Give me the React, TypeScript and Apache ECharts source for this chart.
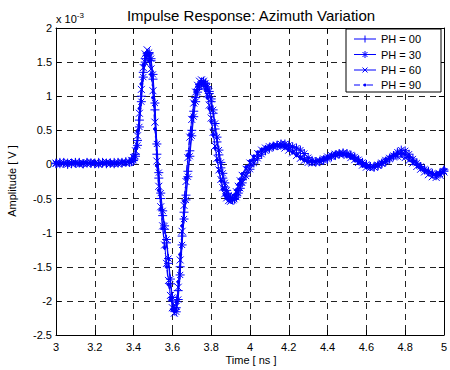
import React, { useEffect, useRef } from "react";
import * as echarts from "echarts";

const FONT = "'Liberation Sans', Arial, sans-serif";

// Time axis samples [ns]
const times = [
  3.00, 3.02, 3.04, 3.06, 3.08, 3.10, 3.12, 3.14, 3.16, 3.18, 3.20, 3.22, 3.24, 3.26, 3.28, 3.30, 3.32, 3.34, 3.36,
  3.38, 3.39, 3.40, 3.41, 3.42, 3.43, 3.44, 3.45, 3.46, 3.47, 3.48, 3.49, 3.50, 3.51, 3.52, 3.53, 3.54, 3.55, 3.56, 3.57,
  3.58, 3.59, 3.60, 3.61, 3.62, 3.63, 3.64, 3.65, 3.66, 3.67, 3.68, 3.69, 3.70, 3.71, 3.72, 3.73, 3.74, 3.75, 3.76, 3.77,
  3.78, 3.79, 3.80, 3.81, 3.82, 3.83, 3.84, 3.85, 3.86, 3.87, 3.88, 3.89, 3.90, 3.91, 3.92, 3.93, 3.94, 3.95, 3.96,
  3.98, 4.00, 4.02, 4.04, 4.06, 4.08, 4.10, 4.12, 4.14, 4.16, 4.18, 4.20, 4.22, 4.24, 4.26, 4.28, 4.30, 4.32, 4.34, 4.36,
  4.38, 4.40, 4.42, 4.44, 4.46, 4.48, 4.50, 4.52, 4.54, 4.56, 4.58, 4.60, 4.62, 4.64, 4.66, 4.68, 4.70, 4.72, 4.74, 4.76,
  4.78, 4.80, 4.82, 4.84, 4.86, 4.88, 4.90, 4.92, 4.94, 4.96, 4.98, 5.00,
];

// Amplitudes in units of 1e-3 V
const ph00 = [
  0.02, 0.01, 0.03, 0.02, 0.01, 0.02, 0.03, 0.01, 0.02, 0.02, 0.01, 0.03, 0.02, 0.01, 0.02, 0.03, 0.02, 0.03, 0.04,
  0.04, 0.05, 0.08, 0.15, 0.35, 0.65, 1.00, 1.35, 1.55, 1.63, 1.62, 1.52, 1.25, 0.80, 0.15, -0.20, -0.50, -0.75, -0.95, -1.15,
  -1.45, -1.75, -2.00, -2.15, -2.10, -1.85, -1.50, -1.05, -0.70, -0.45, -0.10, 0.20, 0.50, 0.78, 0.98, 1.10, 1.17, 1.21, 1.22, 1.18,
  1.12, 1.04, 0.92, 0.75, 0.52, 0.33, 0.14, -0.05, -0.20, -0.33, -0.43, -0.48, -0.51, -0.52, -0.50, -0.45, -0.38, -0.30, -0.22,
  -0.12, -0.02, 0.06, 0.12, 0.18, 0.22, 0.25, 0.27, 0.28, 0.29, 0.28, 0.25, 0.21, 0.17, 0.12, 0.08, 0.05, 0.04, 0.04, 0.05,
  0.07, 0.09, 0.12, 0.14, 0.16, 0.16, 0.15, 0.13, 0.10, 0.06, 0.02, -0.01, -0.03, -0.03, -0.01, 0.02, 0.05, 0.09, 0.12, 0.15,
  0.16, 0.14, 0.10, 0.05, 0.00, -0.04, -0.08, -0.11, -0.14, -0.15, -0.12, -0.08,
];

const ph30 = [
  0.01, 0.03, 0.02, 0.00, 0.02, 0.03, 0.02, 0.01, 0.03, 0.02, 0.02, 0.01, 0.03, 0.02, 0.02, 0.01, 0.03, 0.02, 0.03,
  0.03, 0.04, 0.06, 0.12, 0.28, 0.55, 0.92, 1.28, 1.50, 1.60, 1.64, 1.55, 1.32, 0.90, 0.30, -0.12, -0.42, -0.68, -0.90, -1.10,
  -1.38, -1.68, -1.95, -2.12, -2.16, -1.98, -1.62, -1.18, -0.80, -0.52, -0.18, 0.12, 0.42, 0.70, 0.92, 1.06, 1.14, 1.19, 1.21, 1.19,
  1.14, 1.07, 0.96, 0.80, 0.60, 0.40, 0.21, 0.03, -0.13, -0.27, -0.38, -0.45, -0.49, -0.51, -0.51, -0.48, -0.42, -0.35, -0.27,
  -0.17, -0.07, 0.02, 0.09, 0.15, 0.20, 0.23, 0.26, 0.28, 0.30, 0.30, 0.28, 0.26, 0.24, 0.21, 0.16, 0.10, 0.06, 0.04, 0.04,
  0.06, 0.08, 0.11, 0.13, 0.15, 0.17, 0.16, 0.14, 0.11, 0.07, 0.03, 0.00, -0.03, -0.04, -0.02, 0.01, 0.04, 0.08, 0.13, 0.18,
  0.21, 0.20, 0.15, 0.08, 0.02, -0.03, -0.07, -0.10, -0.13, -0.16, -0.14, -0.10,
];

const ph60 = [
  0.02, 0.00, 0.02, 0.03, 0.01, 0.02, 0.00, 0.02, 0.01, 0.03, 0.02, 0.00, 0.02, 0.03, 0.01, 0.02, 0.01, 0.03, 0.02,
  0.03, 0.06, 0.10, 0.20, 0.42, 0.75, 1.10, 1.42, 1.62, 1.68, 1.58, 1.40, 1.08, 0.62, 0.05, -0.32, -0.62, -0.90, -1.18, -1.45,
  -1.70, -1.92, -2.10, -2.18, -2.08, -1.80, -1.40, -0.98, -0.60, -0.25, 0.10, 0.40, 0.66, 0.90, 1.06, 1.16, 1.22, 1.24, 1.22, 1.15,
  1.03, 0.87, 0.68, 0.47, 0.27, 0.09, -0.08, -0.22, -0.34, -0.43, -0.49, -0.53, -0.54, -0.52, -0.47, -0.40, -0.32, -0.24, -0.16,
  -0.07, 0.02, 0.10, 0.16, 0.21, 0.24, 0.26, 0.27, 0.27, 0.26, 0.24, 0.21, 0.17, 0.13, 0.09, 0.06, 0.03, 0.02, 0.03, 0.05,
  0.08, 0.11, 0.13, 0.15, 0.16, 0.15, 0.13, 0.10, 0.07, 0.03, -0.01, -0.04, -0.05, -0.04, -0.01, 0.02, 0.06, 0.09, 0.11, 0.12,
  0.12, 0.10, 0.06, 0.02, -0.03, -0.07, -0.11, -0.15, -0.18, -0.19, -0.16, -0.11,
];

const ph90 = [
  0.03, 0.02, 0.01, 0.02, 0.03, 0.01, 0.02, 0.03, 0.02, 0.01, 0.03, 0.02, 0.01, 0.02, 0.03, 0.02, 0.02, 0.04, 0.03,
  0.05, 0.07, 0.12, 0.24, 0.48, 0.82, 1.18, 1.46, 1.60, 1.62, 1.52, 1.32, 0.98, 0.52, -0.02, -0.38, -0.66, -0.94, -1.22, -1.50,
  -1.76, -1.98, -2.12, -2.14, -2.02, -1.72, -1.32, -0.90, -0.54, -0.20, 0.14, 0.44, 0.70, 0.92, 1.07, 1.15, 1.19, 1.20, 1.17, 1.10,
  0.98, 0.82, 0.63, 0.43, 0.24, 0.06, -0.10, -0.24, -0.36, -0.45, -0.50, -0.53, -0.53, -0.50, -0.45, -0.38, -0.30, -0.22, -0.14,
  -0.04, 0.05, 0.12, 0.18, 0.22, 0.25, 0.27, 0.28, 0.28, 0.27, 0.25, 0.22, 0.18, 0.14, 0.10, 0.07, 0.05, 0.04, 0.05, 0.07,
  0.10, 0.12, 0.14, 0.16, 0.16, 0.15, 0.13, 0.10, 0.06, 0.02, -0.02, -0.04, -0.04, -0.02, 0.01, 0.04, 0.08, 0.11, 0.14, 0.16,
  0.17, 0.15, 0.11, 0.06, 0.01, -0.03, -0.07, -0.10, -0.13, -0.14, -0.11, -0.06,
];

const seriesNames = ["PH = 00", "PH = 30", "PH = 60", "PH = 90"];
const xTicks = { min: 3, max: 5, interval: 0.2 };
const yTicks = { min: -2.5, max: 2, interval: 0.5 };

const BLUE = "#0000ff";
const SYM_PLUS = "path://M5,0L5,10M0,5L10,5";
const SYM_STAR = "path://M5,0L5,10M0,5L10,5M1.6,1.6L8.4,8.4M8.4,1.6L1.6,8.4";
const SYM_X = "path://M0,0L10,10M10,0L0,10";
const DASHDOT = [6, 3, 1, 3];

export default function App() {
  const ref = useRef<HTMLDivElement>(null);
  useEffect(() => {
    if (!ref.current) return;
    const chart = echarts.init(ref.current, null, { renderer: "svg" });
    const mk = (name: string, vals: number[], symbol: string, size: number, lineType: any) => ({
      type: "line",
      name,
      data: times.map((t, i) => [t, vals[i]]),
      symbol,
      symbolSize: size,
      showSymbol: true,
      showAllSymbol: true,
      silent: true,
      lineStyle: { color: BLUE, width: 1, type: lineType },
      itemStyle: { color: BLUE, borderColor: BLUE, borderWidth: 1 },
      emphasis: { disabled: true },
      xAxisIndex: 0,
      yAxisIndex: 0,
    });
    const axisCommonX = { type: "value", min: xTicks.min, max: xTicks.max, interval: xTicks.interval };
    const axisCommonY = { type: "value", min: yTicks.min, max: yTicks.max, interval: yTicks.interval };
    const tick = { show: true, inside: true, length: 5, lineStyle: { color: "#000" } };
    const aline = { show: true, onZero: false, lineStyle: { color: "#000", width: 1 } };
    const grid = { show: true, lineStyle: { color: "#222", width: 1, type: [6, 5] } };
    const lblStyle = { color: "#000", fontSize: 11, fontFamily: FONT };

    // legend drawn with graphic elements
    const LX = 346, LY = 29, LW = 95, LH = 63;
    const rowY = [39, 54.5, 70, 85];
    const lx0 = 354, lx1 = 376, mx = 365;
    const ls = { stroke: BLUE, lineWidth: 1 };
    const legendEls: any[] = [
      { type: "rect", shape: { x: LX, y: LY, width: LW, height: LH }, style: { fill: "#fff", stroke: "#000", lineWidth: 1 }, z: 100 },
    ];
    rowY.forEach((y, i) => {
      legendEls.push({
        type: "line",
        shape: { x1: lx0, y1: y, x2: lx1, y2: y },
        style: { ...ls, lineDash: i === 3 ? DASHDOT : null },
        z: 101,
      });
      legendEls.push({
        type: "text",
        x: 381,
        y,
        style: { text: seriesNames[i], fill: "#000", font: `11px ${FONT}`, verticalAlign: "middle", align: "left" },
        z: 101,
      });
    });
    const r = 3.5;
    legendEls.push({ type: "line", shape: { x1: mx, y1: rowY[0] - r, x2: mx, y2: rowY[0] + r }, style: ls, z: 102 });
    legendEls.push({ type: "line", shape: { x1: mx, y1: rowY[1] - r, x2: mx, y2: rowY[1] + r }, style: ls, z: 102 });
    legendEls.push({ type: "line", shape: { x1: mx - 2.5, y1: rowY[1] - 2.5, x2: mx + 2.5, y2: rowY[1] + 2.5 }, style: ls, z: 102 });
    legendEls.push({ type: "line", shape: { x1: mx + 2.5, y1: rowY[1] - 2.5, x2: mx - 2.5, y2: rowY[1] + 2.5 }, style: ls, z: 102 });
    legendEls.push({ type: "line", shape: { x1: mx - 2.5, y1: rowY[2] - 2.5, x2: mx + 2.5, y2: rowY[2] + 2.5 }, style: ls, z: 102 });
    legendEls.push({ type: "line", shape: { x1: mx + 2.5, y1: rowY[2] - 2.5, x2: mx - 2.5, y2: rowY[2] + 2.5 }, style: ls, z: 102 });
    legendEls.push({ type: "circle", shape: { cx: mx, cy: rowY[3], r: 1.5 }, style: { fill: BLUE }, z: 102 });

    chart.setOption({
      animation: false,
      backgroundColor: "#ffffff",
      grid: { left: 56, top: 28, width: 391, height: 307, containLabel: false },
      xAxis: [
        {
          ...axisCommonX,
          position: "bottom",
          axisLine: aline,
          axisTick: tick,
          axisLabel: { show: true, margin: 6, ...lblStyle, formatter: (v: number) => String(+v.toFixed(1)) },
          splitLine: grid,
        },
        { ...axisCommonX, position: "top", axisLine: aline, axisTick: tick, axisLabel: { show: false }, splitLine: { show: false } },
      ],
      yAxis: [
        {
          ...axisCommonY,
          position: "left",
          axisLine: aline,
          axisTick: tick,
          axisLabel: { show: true, margin: 4, ...lblStyle, formatter: (v: number) => String(+v.toFixed(1)) },
          splitLine: grid,
        },
        { ...axisCommonY, position: "right", axisLine: aline, axisTick: tick, axisLabel: { show: false }, splitLine: { show: false } },
      ],
      series: [
        mk(seriesNames[0], ph00, SYM_PLUS, 9, "solid"),
        mk(seriesNames[1], ph30, SYM_STAR, 9, "solid"),
        mk(seriesNames[2], ph60, SYM_X, 7, "solid"),
        mk(seriesNames[3], ph90, "circle", 3, DASHDOT),
      ],
      graphic: [
        {
          type: "text",
          x: 251,
          y: 15,
          style: {
            text: "Impulse Response: Azimuth Variation",
            align: "center",
            verticalAlign: "middle",
            fill: "#000",
            font: `15px ${FONT}`,
          },
        },
        {
          type: "text",
          x: 56,
          y: 11,
          style: {
            text: "x 10{sup|-3}",
            fill: "#000",
            font: `11px ${FONT}`,
            verticalAlign: "top",
            rich: {
              sup: { fontSize: 8, fontFamily: FONT, verticalAlign: "top", padding: [0, 0, 8, 0], fill: "#000" },
            },
          },
        },
        {
          type: "text",
          x: 12,
          y: 181,
          rotation: Math.PI / 2,
          style: { text: "Amplitude [ V ]", align: "center", verticalAlign: "middle", fill: "#000", font: `11px ${FONT}` },
        },
        {
          type: "text",
          x: 251,
          y: 360,
          style: { text: "Time [ ns ]", align: "center", verticalAlign: "middle", fill: "#000", font: `11px ${FONT}` },
        },
        ...legendEls,
      ],
    });
    return () => chart.dispose();
  }, []);
  return <div ref={ref} style={{ position: "fixed", left: 0, top: 0, width: 450, height: 370 }} />;
}
